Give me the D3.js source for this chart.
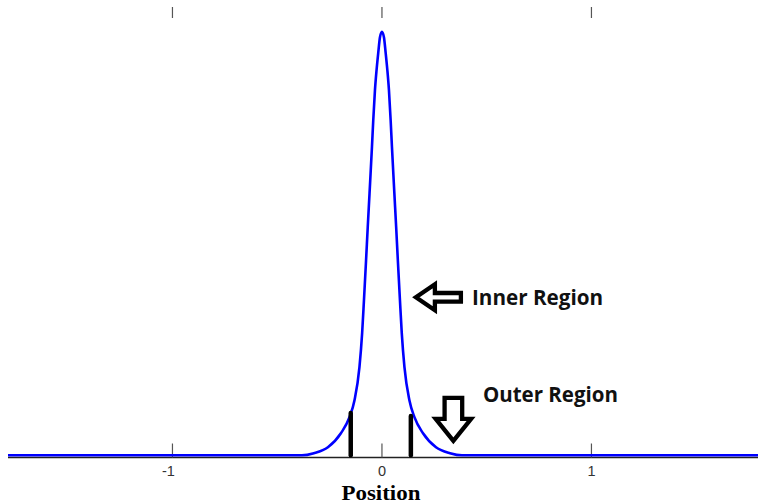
<!DOCTYPE html>
<html>
<head>
<meta charset="utf-8">
<script src="https://cdn.jsdelivr.net/npm/d3@7"></script>
<style>
  body { margin: 0; background: #fff; }
  svg { display: block; }
</style>
</head>
<body>
<div id="chart"></div>
<script>
// curve (position, normalised height)
var positions = [-1.785, -0.382, -0.325, -0.258, -0.196, -0.155, -0.131, -0.1074, -0.0945, -0.0859, -0.0759, -0.0678, -0.0592, -0.0477, -0.0415, -0.0334, -0.0258, -0.0177, -0.0095, 0,
                 0.0095, 0.0177, 0.0258, 0.0334, 0.0415, 0.0477, 0.0592, 0.0678, 0.0759, 0.0859, 0.0945, 0.1074, 0.131, 0.155, 0.196, 0.258, 0.325, 0.382, 1.795];
var heights = [0, 0, 0.005, 0.019, 0.052, 0.090, 0.130, 0.208, 0.289, 0.366, 0.460, 0.539, 0.619, 0.728, 0.791, 0.862, 0.909, 0.950, 0.987, 1,
               0.987, 0.950, 0.909, 0.862, 0.791, 0.728, 0.619, 0.539, 0.460, 0.366, 0.289, 0.208, 0.130, 0.090, 0.052, 0.019, 0.005, 0, 0];

// region boundaries (thick black bars)
var boundaryX = [-0.149, 0.138];
var boundaryTop = [0.10, 0.093];

var tickValues = [-1, 0, 1];
var tickLabels = ["-1", "0", "1"];

var xLabel = "Position";

var vis = {};
vis.width = 758;
vis.height = 503;

vis.svg = d3.select("#chart").append("svg")
    .attr("width", vis.width)
    .attr("height", vis.height);

vis.x = d3.scaleLinear()
    .domain([-1.785, 1.795])
    .range([8, 758]);

vis.y = d3.scaleLinear()
    .domain([0, 1])
    .range([455.3, 31.7]);

var plotTop = 7,
    plotBottom = 457.5;

// axis line + ticks (inside, top and bottom)
vis.svg.append("line")
    .attr("x1", vis.x.range()[0]).attr("x2", vis.x.range()[1])
    .attr("y1", plotBottom).attr("y2", plotBottom)
    .style("stroke", "#222")
    .style("stroke-width", 1.5);

vis.svg.selectAll(".tickTop")
    .data(tickValues)
    .enter().append("line")
    .attr("class", "tickTop")
    .attr("x1", function(d){ return vis.x(d); })
    .attr("x2", function(d){ return vis.x(d); })
    .attr("y1", plotTop).attr("y2", plotTop + 11)
    .style("stroke", "#555")
    .style("stroke-width", 1.2);

vis.svg.selectAll(".tickBottom")
    .data(tickValues)
    .enter().append("line")
    .attr("class", "tickBottom")
    .attr("x1", function(d){ return vis.x(d); })
    .attr("x2", function(d){ return vis.x(d); })
    .attr("y1", plotBottom).attr("y2", plotBottom - 14)
    .style("stroke", "#555")
    .style("stroke-width", 1.2);

vis.svg.selectAll(".tickLabel")
    .data(tickValues)
    .enter().append("text")
    .attr("class", "tickLabel")
    .attr("x", function(d){ return vis.x(d) - (d < 0 ? 4 : 0); })
    .attr("y", 476)
    .attr("text-anchor", "middle")
    .style("font-family", "'Liberation Sans', Arial, sans-serif")
    .style("font-size", "14.5px")
    .style("fill", "#333")
    .text(function(d, i){ return tickLabels[i]; });

vis.svg.append("text")
    .attr("x", vis.x(0) - 1)
    .attr("y", 499.5)
    .attr("text-anchor", "middle")
    .style("font-family", "'Liberation Serif', 'Times New Roman', serif")
    .style("font-weight", "bold")
    .style("font-size", "21px")
    .attr("textLength", 79)
    .attr("lengthAdjust", "spacingAndGlyphs")
    .style("fill", "#000")
    .text(xLabel);

// the curve
var curveData = positions.map(function(p, i){ return {x: p, y: heights[i]}; });

var line = d3.line()
    .x(function(d){ return vis.x(d.x); })
    .y(function(d){ return vis.y(d.y); })
    .curve(d3.curveMonotoneX);

vis.svg.append("path")
    .datum(curveData)
    .attr("d", line)
    .style("fill", "none")
    .style("stroke", "#0000ff")
    .style("stroke-width", 2.6)
    .style("stroke-linejoin", "round");

// boundary bars
vis.svg.selectAll(".boundary")
    .data(boundaryX)
    .enter().append("line")
    .attr("class", "boundary")
    .attr("x1", function(d){ return vis.x(d); })
    .attr("x2", function(d){ return vis.x(d); })
    .attr("y1", function(d, i){ return vis.y(boundaryTop[i]); })
    .attr("y2", vis.y(0))
    .style("stroke", "#000")
    .style("stroke-width", 4.5)
    .style("stroke-linecap", "round");

// annotations: hollow block arrows and labels
var arrowLeft = "M0,0 L19,-13 L19,-4.3 L45,-4.3 L45,4.3 L19,4.3 L19,13 Z";
var arrowDown = "M0,0 L-17.7,-22 L-8.8,-22 L-8.8,-43 L8.8,-43 L8.8,-22 L17.7,-22 Z";

var notes = [
  {tipX: 0.162, tipY: 0.373, shape: arrowLeft, label: "Inner Region", tx: 0.43, ty: 0.355, len: 131},
  {tipX: 0.341, tipY: 0.034, shape: arrowDown, label: "Outer Region", tx: 0.482, ty: 0.126, len: 135}
];

vis.svg.selectAll(".arrow")
    .data(notes)
    .enter().append("path")
    .attr("class", "arrow")
    .attr("transform", function(d){ return "translate(" + vis.x(d.tipX) + "," + vis.y(d.tipY) + ")"; })
    .attr("d", function(d){ return d.shape; })
    .style("fill", "#fff")
    .style("stroke", "#000")
    .style("stroke-width", 4.3)
    .style("stroke-linejoin", "miter");

vis.svg.selectAll(".note")
    .data(notes)
    .enter().append("text")
    .attr("class", "note")
    .attr("x", function(d){ return vis.x(d.tx); })
    .attr("y", function(d){ return vis.y(d.ty); })
    .attr("textLength", function(d){ return d.len; })
    .attr("lengthAdjust", "spacingAndGlyphs")
    .style("font-family", "'Open Sans', sans-serif")
    .style("font-weight", "bold")
    .style("font-size", "22px")
    .style("fill", "#111")
    .text(function(d){ return d.label; });
</script>
</body>
</html>
